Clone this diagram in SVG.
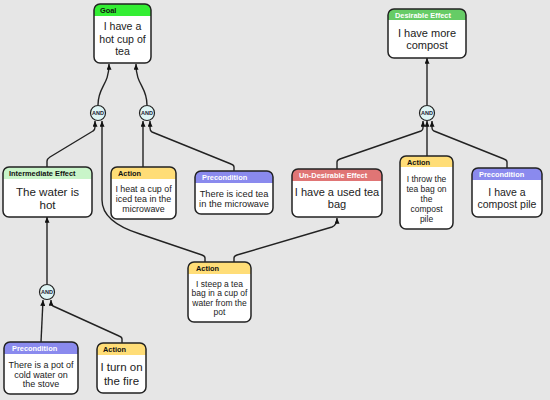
<svg xmlns="http://www.w3.org/2000/svg" width="550" height="400" viewBox="0 0 550 400">
<defs>
<marker id="arr" viewBox="0 0 7 6" refX="7" refY="3" markerWidth="7" markerHeight="5" markerUnits="userSpaceOnUse" orient="auto">
<path d="M0,0 L7,3 L0,6 z" fill="#111"/>
</marker>
<style>
.box{fill:none;stroke:#222;stroke-width:1.5}
.bg{fill:#fff}
.hd{font-family:"Liberation Sans",Arial,sans-serif;font-size:7.4px;font-weight:bold}
.hw{fill:#fff}
.hb{fill:#111}
.t{font-family:"Liberation Sans",Arial,sans-serif;fill:#222;text-anchor:middle}
.c{fill:none;stroke:#222;stroke-width:1.4;marker-end:url(#arr)}
.and circle{fill:#dff5f5;stroke:#222;stroke-width:1.2}
.and text{font-family:"Liberation Sans",Arial,sans-serif;font-size:5.5px;font-weight:bold;fill:#223;text-anchor:middle}
.goal{fill:#33ee33}
.inter{fill:#c9f5c9}
.act{fill:#ffdd77}
.pre{fill:#8a8aee}
.des{fill:#66cc66}
.und{fill:#e07575}
</style>
</defs>
<rect width="550" height="400" fill="#e6e6e6"/>

<g id="connectors">
<path class="c" d="M98,105 C98,86 109,86 109,64"/>
<path class="c" d="M147,105 C147,86 136,86 136,64"/>
<path class="c" d="M47,167 L47,161 Q47,159 50,157 L93,131 Q95,130 95,127 L95,121"/>
<path class="c" d="M205,262 L205,258 Q205,256 202,255 L140,234 Q102,222 102,200 L102,121"/>
<path class="c" d="M143,167 L143,121"/>
<path class="c" d="M234,171 L234,167 Q234,165 231,164 L152,132 Q150,131 150,128 L150,121"/>
<path class="c" d="M234,262 L234,258 Q234,256 237,255 L332,227 Q337,225 337,218"/>
<path class="c" d="M427,105 L427,58"/>
<path class="c" d="M337,169 L337,162 Q337,160 340,159 L421,131 Q423,130 423,128 L423,121"/>
<path class="c" d="M427,156 L427,121"/>
<path class="c" d="M507,168 L507,162 Q507,160 504,159 L434,131 Q432,130 432,128 L432,121"/>
<path class="c" d="M47,284 L47,217"/>
<path class="c" d="M41,342 L43,300"/>
<path class="c" d="M122,343 L122,339 Q122,337 119,336 L53,306 Q51,305 51,303 L51,300"/>
</g>

<g id="and1" class="and"><circle cx="98" cy="113" r="7.5"/><text x="98" y="115">AND</text></g>
<g id="and2" class="and"><circle cx="147" cy="113" r="7.5"/><text x="147" y="115">AND</text></g>
<g id="and3" class="and"><circle cx="427" cy="113" r="7.5"/><text x="427" y="115">AND</text></g>
<g id="and4" class="and"><circle cx="47" cy="292" r="7.5"/><text x="47" y="294">AND</text></g>

<g id="goal">
<rect class="bg" x="94" y="4" width="57" height="59" rx="6"/>
<path class="goal" d="M94,16 L94,10 Q94,4 100,4 L145,4 Q151,4 151,10 L151,16 Z"/>
<rect class="box" x="94" y="4" width="57" height="59" rx="6"/>
<text class="hd hb" x="100" y="13">Goal</text>
<text class="t" font-size="10.6" x="122.5" y="30">I have a</text>
<text class="t" font-size="10.6" x="122.5" y="42.5">hot cup of</text>
<text class="t" font-size="10.6" x="122.5" y="55">tea</text>
</g>

<g id="intermediate">
<rect class="bg" x="3" y="167" width="89" height="50" rx="6"/>
<path class="inter" d="M3,179 L3,173 Q3,167 9,167 L86,167 Q92,167 92,173 L92,179 Z"/>
<rect class="box" x="3" y="167" width="89" height="50" rx="6"/>
<text class="hd hb" x="9" y="176">Intermediate Effect</text>
<text class="t" font-size="11.6" x="47.5" y="196">The water is</text>
<text class="t" font-size="11.6" x="47.5" y="208.5">hot</text>
</g>

<g id="heat">
<rect class="bg" x="111" y="167" width="65" height="52" rx="6"/>
<path class="act" d="M111,179 L111,173 Q111,167 117,167 L170,167 Q176,167 176,173 L176,179 Z"/>
<rect class="box" x="111" y="167" width="65" height="52" rx="6"/>
<text class="hd hb" x="118" y="176">Action</text>
<text class="t" font-size="8.9" x="143.5" y="191.5">I heat a cup of</text>
<text class="t" font-size="8.9" x="143.5" y="201.5">iced tea in the</text>
<text class="t" font-size="8.9" x="143.5" y="211.5">microwave</text>
</g>

<g id="iced">
<rect class="bg" x="195" y="171" width="78" height="43" rx="6"/>
<path class="pre" d="M195,183 L195,177 Q195,171 201,171 L267,171 Q273,171 273,177 L273,183 Z"/>
<rect class="box" x="195" y="171" width="78" height="43" rx="6"/>
<text class="hd hw" x="202" y="180">Precondition</text>
<text class="t" font-size="9.3" x="234" y="196.5">There is iced tea</text>
<text class="t" font-size="9.3" x="234" y="206.5">in the microwave</text>
</g>

<g id="desirable">
<rect class="bg" x="388" y="9" width="78" height="49" rx="6"/>
<path class="des" d="M388,20 L388,15 Q388,9 394,9 L460,9 Q466,9 466,15 L466,20 Z"/>
<rect class="box" x="388" y="9" width="78" height="49" rx="6"/>
<text class="hd hw" x="395" y="17.5">Desirable Effect</text>
<text class="t" font-size="11" x="427" y="36.5">I have more</text>
<text class="t" font-size="11" x="427" y="49">compost</text>
</g>

<g id="undesirable">
<rect class="bg" x="292" y="169" width="90" height="48" rx="6"/>
<path class="und" d="M292,181 L292,175 Q292,169 298,169 L376,169 Q382,169 382,175 L382,181 Z"/>
<rect class="box" x="292" y="169" width="90" height="48" rx="6"/>
<text class="hd hw" x="299" y="178">Un-Desirable Effect</text>
<text class="t" font-size="11" x="337" y="195.5">I have a used tea</text>
<text class="t" font-size="11" x="337" y="208">bag</text>
</g>

<g id="throw">
<rect class="bg" x="400" y="156" width="53" height="73" rx="6"/>
<path class="act" d="M400,167 L400,162 Q400,156 406,156 L447,156 Q453,156 453,162 L453,167 Z"/>
<rect class="box" x="400" y="156" width="53" height="73" rx="6"/>
<text class="hd hb" x="407" y="164.5">Action</text>
<text class="t" font-size="8.5" x="426.5" y="181.5">I throw the</text>
<text class="t" font-size="8.5" x="426.5" y="191.5">tea bag on</text>
<text class="t" font-size="8.5" x="426.5" y="201.5">the</text>
<text class="t" font-size="8.5" x="426.5" y="211.5">compost</text>
<text class="t" font-size="8.5" x="426.5" y="221.5">pile</text>
</g>

<g id="pile">
<rect class="bg" x="472" y="168" width="70" height="49" rx="6"/>
<path class="pre" d="M472,180 L472,174 Q472,168 478,168 L536,168 Q542,168 542,174 L542,180 Z"/>
<rect class="box" x="472" y="168" width="70" height="49" rx="6"/>
<text class="hd hw" x="479" y="177">Precondition</text>
<text class="t" font-size="10.5" x="507" y="195.5">I have a</text>
<text class="t" font-size="10.5" x="507" y="207.5">compost pile</text>
</g>

<g id="steep">
<rect class="bg" x="188" y="262" width="63" height="60" rx="6"/>
<path class="act" d="M188,274 L188,268 Q188,262 194,262 L245,262 Q251,262 251,268 L251,274 Z"/>
<rect class="box" x="188" y="262" width="63" height="60" rx="6"/>
<text class="hd hb" x="196" y="271">Action</text>
<text class="t" font-size="8.5" x="219.5" y="286.5">I steep a tea</text>
<text class="t" font-size="8.5" x="219.5" y="296">bag in a cup of</text>
<text class="t" font-size="8.5" x="219.5" y="305.5">water from the</text>
<text class="t" font-size="8.5" x="219.5" y="315">pot</text>
</g>

<g id="pot">
<rect class="bg" x="4" y="342" width="74" height="52" rx="6"/>
<path class="pre" d="M4,354 L4,348 Q4,342 10,342 L72,342 Q78,342 78,348 L78,354 Z"/>
<rect class="box" x="4" y="342" width="74" height="52" rx="6"/>
<text class="hd hw" x="12" y="351">Precondition</text>
<text class="t" font-size="9" x="41" y="368">There is a pot of</text>
<text class="t" font-size="9" x="41" y="377.5">cold water on</text>
<text class="t" font-size="9" x="41" y="387">the stove</text>
</g>

<g id="fire">
<rect class="bg" x="97" y="343" width="49" height="50" rx="6"/>
<path class="act" d="M97,355 L97,349 Q97,343 103,343 L140,343 Q146,343 146,349 L146,355 Z"/>
<rect class="box" x="97" y="343" width="49" height="50" rx="6"/>
<text class="hd hb" x="103" y="352">Action</text>
<text class="t" font-size="11.5" x="121.5" y="370.5">I turn on</text>
<text class="t" font-size="11.5" x="121.5" y="384.5">the fire</text>
</g>
</svg>
